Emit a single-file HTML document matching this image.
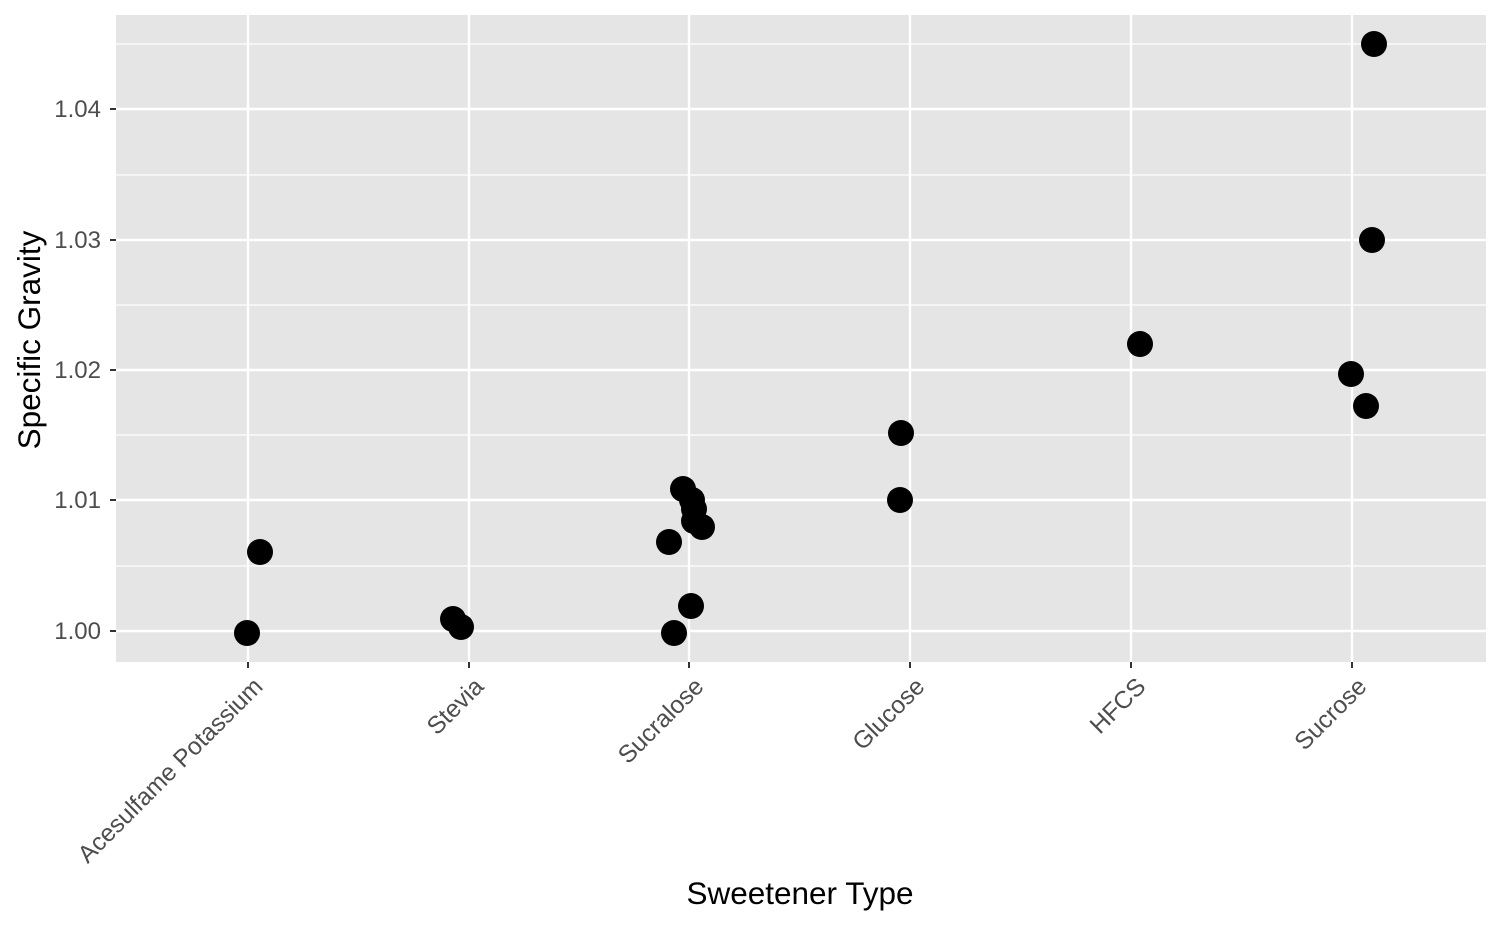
<!DOCTYPE html>
<html><head><meta charset="utf-8"><style>body{margin:0;background:#fff}</style></head><body>
<svg width="1500" height="927" xmlns="http://www.w3.org/2000/svg" font-family="Liberation Sans, sans-serif">
<rect x="116" y="15" width="1370" height="647" fill="#e5e5e5"/>
<g stroke="#fff" stroke-width="1.2">
<line x1="116" x2="1486" y1="44" y2="44"/><line x1="116" x2="1486" y1="175" y2="175"/><line x1="116" x2="1486" y1="305" y2="305"/><line x1="116" x2="1486" y1="435" y2="435"/><line x1="116" x2="1486" y1="566" y2="566"/>
</g>
<g stroke="#fff" stroke-width="2.4">
<line x1="116" x2="1486" y1="109" y2="109"/><line x1="116" x2="1486" y1="240" y2="240"/><line x1="116" x2="1486" y1="370" y2="370"/><line x1="116" x2="1486" y1="500" y2="500"/><line x1="116" x2="1486" y1="631" y2="631"/>
<line y1="15" y2="662" x1="248" x2="248"/><line y1="15" y2="662" x1="469" x2="469"/><line y1="15" y2="662" x1="689" x2="689"/><line y1="15" y2="662" x1="910" x2="910"/><line y1="15" y2="662" x1="1131" x2="1131"/><line y1="15" y2="662" x1="1352" x2="1352"/>
</g>
<g stroke="#333" stroke-width="2">
<line x1="110" x2="116" y1="109" y2="109"/><line x1="110" x2="116" y1="240" y2="240"/><line x1="110" x2="116" y1="370" y2="370"/><line x1="110" x2="116" y1="500" y2="500"/><line x1="110" x2="116" y1="631" y2="631"/>
<line y1="662" y2="668" x1="248" x2="248"/><line y1="662" y2="668" x1="469" x2="469"/><line y1="662" y2="668" x1="689" x2="689"/><line y1="662" y2="668" x1="910" x2="910"/><line y1="662" y2="668" x1="1131" x2="1131"/><line y1="662" y2="668" x1="1352" x2="1352"/>
</g>
<g font-size="24" fill="#4d4d4d" text-anchor="end">
<text x="101" y="117">1.04</text><text x="101" y="248">1.03</text><text x="101" y="378">1.02</text><text x="101" y="508">1.01</text><text x="101" y="639">1.00</text>
</g>
<g font-size="24.5" fill="#4d4d4d" text-anchor="end">
<text transform="translate(264,688) rotate(-45)">Acesulfame Potassium</text>
<text transform="translate(485,688) rotate(-45)">Stevia</text>
<text transform="translate(705,688) rotate(-45)">Sucralose</text>
<text transform="translate(926,688) rotate(-45)">Glucose</text>
<text transform="translate(1147,688) rotate(-45)">HFCS</text>
<text transform="translate(1368,688) rotate(-45)">Sucrose</text>
</g>
<text x="800" y="904" font-size="31.5" text-anchor="middle">Sweetener Type</text>
<text transform="translate(40,340) rotate(-90)" font-size="31.5" text-anchor="middle">Specific Gravity</text>
<g fill="#000">
<circle cx="247" cy="633" r="13"/><circle cx="260" cy="552" r="13"/>
<circle cx="453" cy="619" r="13"/><circle cx="461" cy="627" r="13"/>
<circle cx="674" cy="633" r="13"/><circle cx="691" cy="606" r="13"/><circle cx="669" cy="542" r="13"/><circle cx="702" cy="527" r="13"/><circle cx="694" cy="521" r="13"/><circle cx="694" cy="509" r="13"/><circle cx="692" cy="500" r="13"/><circle cx="683" cy="489" r="13"/>
<circle cx="900" cy="500" r="13"/><circle cx="901" cy="433" r="13"/>
<circle cx="1140" cy="344" r="13"/>
<circle cx="1351" cy="374" r="13"/><circle cx="1366" cy="406" r="13"/><circle cx="1372" cy="240" r="13"/><circle cx="1374" cy="44" r="13"/>
</g>
</svg>
</body></html>
